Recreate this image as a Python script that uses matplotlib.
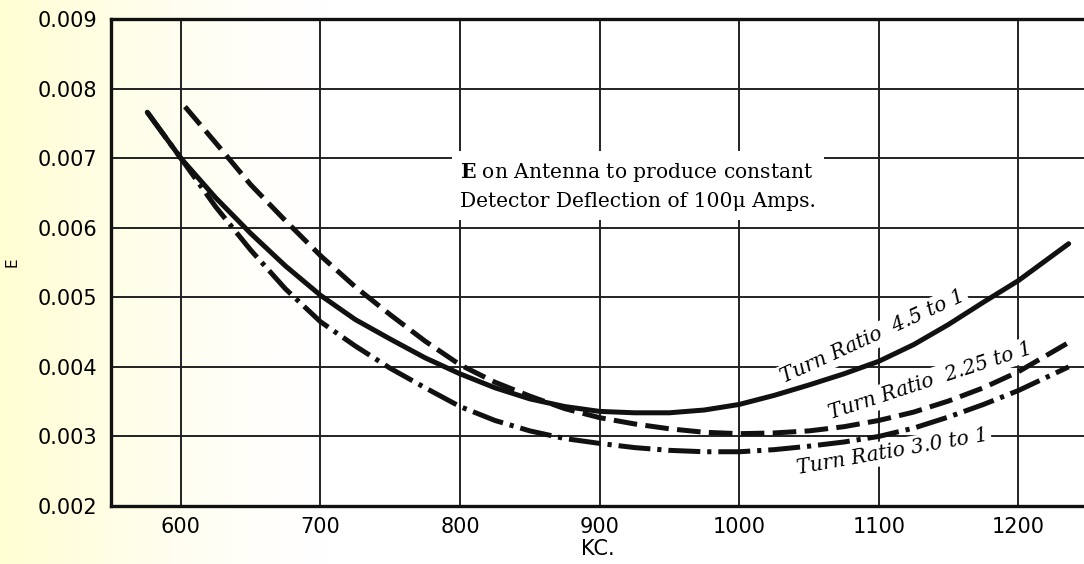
import numpy as np
import matplotlib
matplotlib.use("Agg")
from matplotlib import pyplot as plt

plt.rcParams['lines.scale_dashes'] = False
plt.rcParams['mathtext.fontset'] = 'custom'
plt.rcParams['mathtext.rm'] = 'DejaVu Serif'
plt.rcParams['mathtext.bf'] = 'DejaVu Serif:bold'

# values (KC vs E)
kc_45 = [576, 600, 625, 650, 675, 700, 725, 750, 775, 800, 825, 850, 875, 900, 925, 950, 975,
         1000, 1025, 1050, 1075, 1100, 1125, 1150, 1175, 1200, 1236]
e_45 = [0.00766, 0.00700, 0.00643, 0.00592, 0.00545, 0.00503, 0.00468, 0.00440, 0.00413, 0.00390,
        0.00370, 0.00354, 0.00343, 0.00336, 0.00334, 0.00334, 0.00338,
        0.00346, 0.00359, 0.00374, 0.00390, 0.00408, 0.00432, 0.00461, 0.00493, 0.00524, 0.00577]

kc_225 = [603, 625, 650, 675, 700, 725, 750, 775, 800, 825, 850, 875, 900, 925, 950, 975,
          1000, 1025, 1050, 1075, 1100, 1125, 1150, 1175, 1200, 1236]
e_225 = [0.00774, 0.00722, 0.00662, 0.00610, 0.00560, 0.00515, 0.00475, 0.00437, 0.00403,
         0.00378, 0.00358, 0.00340, 0.00327, 0.00318, 0.00311, 0.00306,
         0.00304, 0.00305, 0.00308, 0.00314, 0.00323, 0.00335, 0.00351, 0.00370, 0.00393, 0.00435]

kc_30 = [576, 600, 625, 650, 675, 700, 725, 750, 775, 800, 825, 850, 875, 900, 925, 950, 975,
         1000, 1025, 1050, 1075, 1100, 1125, 1150, 1175, 1200, 1236]
e_30 = [0.00766, 0.00700, 0.00630, 0.00568, 0.00512, 0.00465, 0.00430, 0.00398, 0.00370, 0.00343,
        0.00323, 0.00308, 0.00297, 0.00290, 0.00284, 0.00280, 0.00278,
        0.00278, 0.00281, 0.00286, 0.00292, 0.00300, 0.00312, 0.00328, 0.00346, 0.00366, 0.00400]

x_ticks = [600, 700, 800, 900, 1000, 1100, 1200]
y_ticks = [0.002, 0.003, 0.004, 0.005, 0.006, 0.007, 0.008, 0.009]

fig = plt.figure(figsize=(10.84, 5.64), dpi=100)

# pale yellow paper tint fading out to the right
bg = fig.add_axes([0, 0, 1, 1], zorder=-10)
pos = np.linspace(0, 1, 512)
fade = np.clip(1 - pos / 0.30, 0, 1) ** 1.4
img = np.ones((1, 512, 3))
img[0, :, 1] = 1.0 - 0.006 * fade
img[0, :, 2] = 1.0 - 0.18 * fade
bg.imshow(img, aspect='auto', extent=[0, 1, 0, 1])
bg.axis('off')

ax = fig.add_axes([0.1024, 0.1028, 0.8976, 0.8635])
ax.set_facecolor('none')

ax.plot(kc_45, e_45, color='#111111', lw=3.6, solid_capstyle='round', solid_joinstyle='round', zorder=3)
ax.plot(kc_225, e_225, color='#111111', lw=3.6, dashes=(17, 6), zorder=3)
ax.plot(kc_30, e_30, color='#111111', lw=3.6, dashes=(23, 5, 3, 5), zorder=3)

ax.set_xlim(550, 1247)
ax.set_ylim(0.002, 0.009)
ax.set_xticks(x_ticks)
ax.set_yticks(y_ticks)
ax.set_yticklabels([f"{v:.3f}" for v in y_ticks])
ax.tick_params(length=0, labelsize=15, pad=10)
ax.tick_params(axis='x', pad=8)
ax.grid(True, color='#222222', lw=1.4)
ax.set_axisbelow(True)
for side in ['left', 'top', 'bottom']:
    ax.spines[side].set_linewidth(2.4)
    ax.spines[side].set_color('#111111')
ax.spines['right'].set_visible(False)

ax.set_xlabel("KC.", fontsize=15, labelpad=1)
ax.set_ylabel("E", fontsize=11)
ax.yaxis.set_label_coords(-0.094, 0.5)

ax.text(800, 0.00696, "$\\mathbf{E}$ on Antenna to produce constant\nDetector Deflection of 100\u03bc Amps.",
        family='DejaVu Serif', fontsize=14.6, ha='left', va='top', linespacing=1.55,
        bbox=dict(facecolor='white', edgecolor='none', pad=6), zorder=1)

white = dict(facecolor='white', edgecolor='none', pad=2)
ax.text(1096, 0.00443, "Turn Ratio  4.5 to 1", family='DejaVu Serif', style='italic',
        fontsize=14.5, rotation=24.5, rotation_mode='anchor', ha='center', va='center', bbox=white, zorder=1)
ax.text(1137, 0.00380, "Turn Ratio  2.25 to 1", family='DejaVu Serif', style='italic',
        fontsize=14.5, rotation=18, rotation_mode='anchor', ha='center', va='center', bbox=white, zorder=1)
ax.text(1110, 0.00278, "Turn Ratio 3.0 to 1", family='DejaVu Serif', style='italic',
        fontsize=14.5, rotation=10, rotation_mode='anchor', ha='center', va='center', bbox=white, zorder=1)

fig.savefig("out.png", dpi=100)
